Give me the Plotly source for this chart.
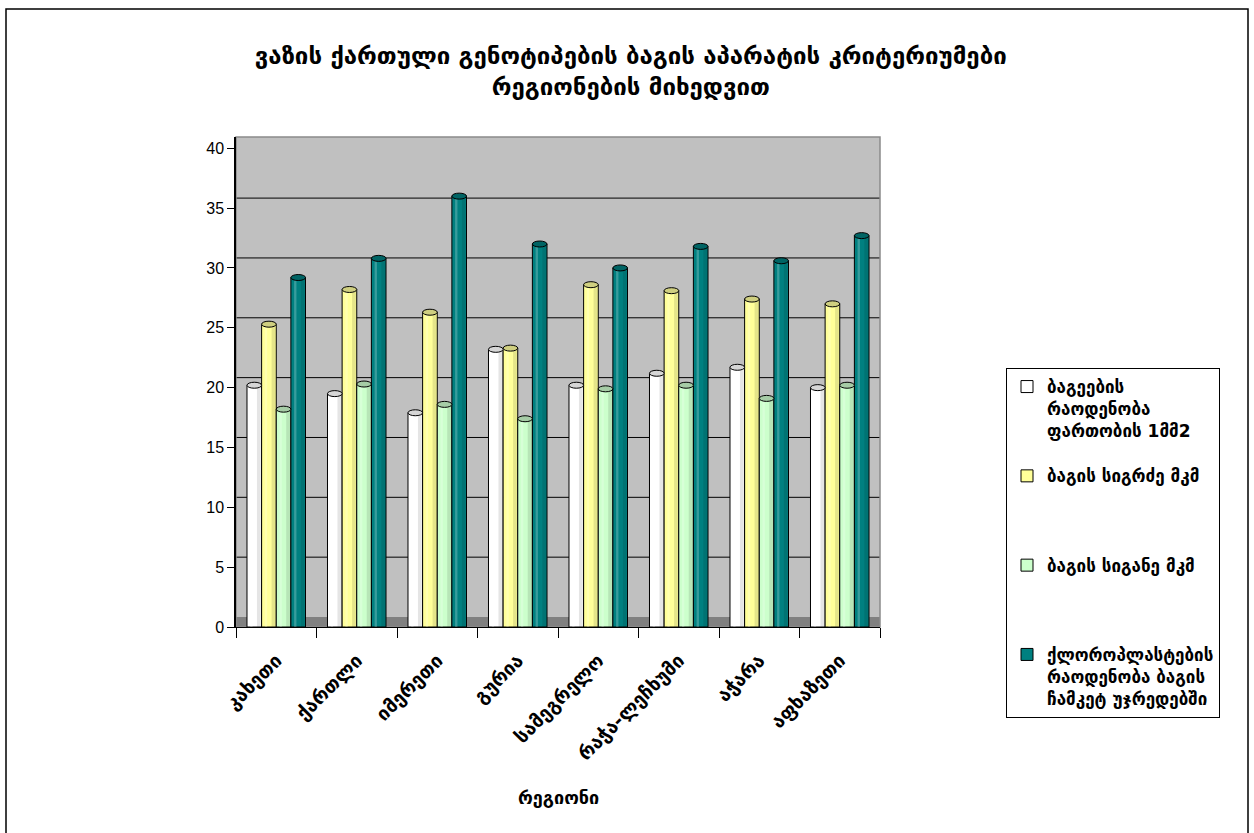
import plotly.graph_objects as go

# Regions (categories)
regions = ["კახეთი", "ქართლი", "იმერეთი", "გურია", "სამეგრელო",
           "რაჭა-ლეჩხუმი", "აჭარა", "აფხაზეთი"]

# Series labels
series_names = [
    "ბაგეების<br>რაოდენობა<br>ფართობის 1მმ2",
    "ბაგის სიგრძე მკმ<br>\u00a0<br>\u00a0",
    "ბაგის სიგანე მკმ<br>\u00a0<br>\u00a0",
    "ქლოროპლასტების<br>რაოდენობა ბაგის<br>ჩამკეტ უჯრედებში",
]

# Series values per region
stomata_count = [20.2, 19.5, 17.9, 23.2, 20.2, 21.2, 21.7, 20.0]
stoma_length = [25.3, 28.2, 26.3, 23.3, 28.6, 28.1, 27.4, 27.0]
stoma_width = [18.2, 20.3, 18.6, 17.4, 19.9, 20.2, 19.1, 20.2]
chloroplasts = [29.2, 30.8, 36.0, 32.0, 30.0, 31.8, 30.6, 32.7]

series_values = [stomata_count, stoma_length, stoma_width, chloroplasts]
fill_colors = ["#FFFFFF", "#FFFF99", "#CCFFCC", "#008080"]
cap_colors = ["#D6D6D6", "#CFCF80", "#A6CCA6", "#006464"]

y_ticks = [0, 5, 10, 15, 20, 25, 30, 35, 40]

GEO_FONT = "DejaVu Sans"
NUM_FONT = "Liberation Sans, Arial, sans-serif"

BARGAP = 0.273
Y_MAX = 40.94
WALL_SHIFT = 0.835  # depth offset of the back wall in value units

fig = go.Figure()
for name, vals, col in zip(series_names, series_values, fill_colors):
    fig.add_trace(go.Bar(
        x=regions, y=vals, name=name,
        marker=dict(color=col, line=dict(color="#000000", width=1)),
        legendgroup=name,
    ))

shapes = []
# floor
shapes.append(dict(type="rect", xref="x domain", yref="y", x0=0, x1=1,
                   y0=0, y1=WALL_SHIFT, fillcolor="#808080",
                   line=dict(width=0), layer="below"))
# back-wall gridlines
for t in y_ticks[1:-1]:
    shapes.append(dict(type="line", xref="x domain", yref="y", x0=0, x1=1,
                       y0=t + WALL_SHIFT, y1=t + WALL_SHIFT,
                       line=dict(color="#000000", width=1), layer="below"))
# plot-area frame
shapes.append(dict(type="rect", xref="x domain", yref="y domain", x0=0, x1=1,
                   y0=0, y1=1, line=dict(color="#8a8a8a", width=1.5),
                   layer="below"))

# cylinder shading and caps
group_w = 1 - BARGAP
bar_w = group_w / len(series_values)
for k, (vals, cap) in enumerate(zip(series_values, cap_colors)):
    for i, v in enumerate(vals):
        cx = i - group_w / 2 + bar_w / 2 + k * bar_w
        # darker right side of the cylinder
        shapes.append(dict(type="rect", xref="x", yref="y",
                           x0=cx + bar_w * 0.18, x1=cx + bar_w * 0.44,
                           y0=0, y1=v, fillcolor="rgba(0,0,0,0.10)",
                           line=dict(width=0), layer="above"))
        # light highlight on the left side
        shapes.append(dict(type="rect", xref="x", yref="y",
                           x0=cx - bar_w * 0.28, x1=cx - bar_w * 0.12,
                           y0=0, y1=v, fillcolor="rgba(255,255,255,0.22)",
                           line=dict(width=0), layer="above"))
        shapes.append(dict(type="circle", xref="x", yref="y",
                           x0=cx - bar_w / 2, x1=cx + bar_w / 2,
                           y0=v - 0.25, y1=v + 0.25,
                           fillcolor=cap, line=dict(color="#000000", width=1),
                           layer="above"))

# outer chart border
shapes.append(dict(type="rect", xref="paper", yref="paper",
                   x0=(6 - 236) / 644, x1=(1248 - 236) / 644,
                   y0=(627 - 845) / 490, y1=(627 - 9) / 490,
                   line=dict(color="#000000", width=1.5), fillcolor="rgba(0,0,0,0)"))

fig.update_layout(
    width=1254, height=833,
    margin=dict(l=236, r=374, t=137, b=206),
    paper_bgcolor="#FFFFFF",
    plot_bgcolor="#C0C0C0",
    barmode="group", bargap=BARGAP, bargroupgap=0,
    shapes=shapes,
    title=dict(
        text="ვაზის ქართული გენოტიპების ბაგის აპარატის კრიტერიუმები<br>რეგიონების მიხედვით",
        x=0.503, xref="container", xanchor="center",
        y=1 - 64 / 833, yref="container", yanchor="middle",
        font=dict(family=GEO_FONT, size=24, color="#000000", weight="bold"),
    ),
    xaxis=dict(
        type="category", tickson="boundaries", ticks="outside", ticklen=10,
        tickcolor="#000000", showline=True, linecolor="#000000", linewidth=1,
        tickangle=-45, showgrid=False, ticklabelstandoff=14,
        tickfont=dict(family=GEO_FONT, size=19, color="#000000", weight="bold"),
    ),
    yaxis=dict(
        range=[0, Y_MAX], tickvals=y_ticks, ticks="outside", ticklen=7,
        tickcolor="#000000", showline=True, linecolor="#000000", linewidth=1.5,
        showgrid=False, zeroline=False,
        tickfont=dict(family=NUM_FONT, size=16, color="#000000"),
    ),
    legend=dict(
        x=(1006 - 236) / 644, xanchor="left", xref="paper",
        y=(627 - 368) / 490, yanchor="top", yref="paper",
        bordercolor="#000000", borderwidth=1, bgcolor="#FFFFFF",
        font=dict(family=GEO_FONT, size=17, color="#000000", weight="bold"),
        valign="top", tracegroupgap=20, traceorder="grouped",
    ),
    annotations=[dict(
        text="რეგიონი", xref="paper", yref="paper", x=0.5, y=(627 - 797) / 490,
        xanchor="center", yanchor="middle", showarrow=False,
        font=dict(family=GEO_FONT, size=18, color="#000000", weight="bold"),
    )],
)

fig.write_html("out.html")
